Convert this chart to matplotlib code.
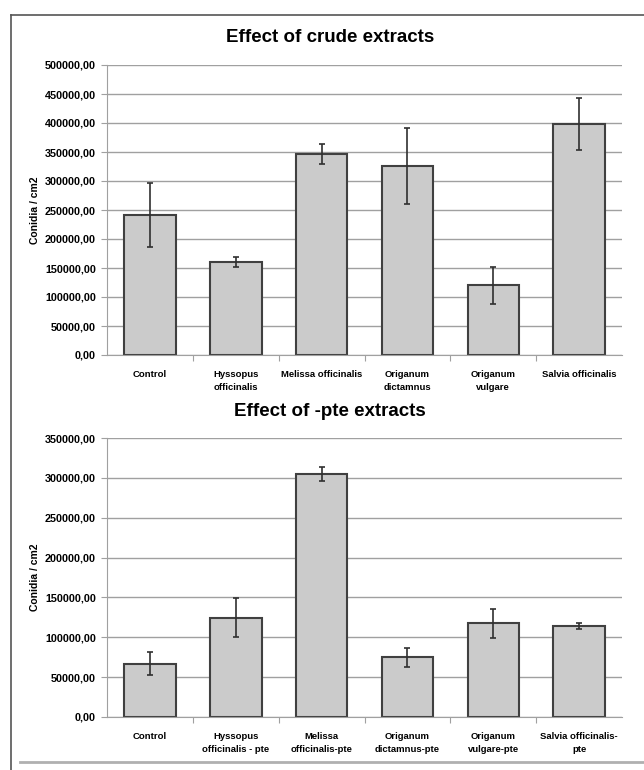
import matplotlib.pyplot as plt
import matplotlib.ticker as ticker
from matplotlib.lines import Line2D

# Data
crude_labels = ["Control", "Hyssopus\nofficinalis", "Melissa officinalis",
                "Origanum\ndictamnus", "Origanum\nvulgare", "Salvia officinalis"]
crude_means = [241000, 160500, 346500, 326500, 120000, 398500]
crude_err = [55000, 9000, 18000, 65500, 32000, 44500]

pte_labels = ["Control", "Hyssopus\nofficinalis - pte", "Melissa\nofficinalis-pte",
              "Origanum\ndictamnus-pte", "Origanum\nvulgare-pte", "Salvia officinalis-\npte"]
pte_means = [67000, 124800, 304600, 75000, 117300, 114000]
pte_err = [14000, 24000, 9000, 12000, 18000, 4000]

plt.rcParams["font.family"] = ["Liberation Sans", "DejaVu Sans"]
plt.rcParams["font.weight"] = "bold"

fig = plt.figure(figsize=(6.44, 7.70), dpi=100)

# outer frame lines
fig.add_artist(Line2D([11 / 644, 11 / 644], [0, 1 - 15 / 770], color="#555555", lw=1.2))
fig.add_artist(Line2D([11 / 644, 1], [1 - 15 / 770, 1 - 15 / 770], color="#555555", lw=1.2))
fig.add_artist(Line2D([20 / 644, 1], [1 - 762 / 770, 1 - 762 / 770], color="#b0b0b0", lw=2))


def fmt(x, _):
    return f"{x:.2f}".replace(".", ",")


def draw(ax, labels, means, err, ymax):
    x = range(len(labels))
    ax.set_axisbelow(True)
    ax.yaxis.grid(True, color="#a0a0a0", lw=1)
    ax.bar(x, means, width=0.6, color="#cbcbcb", edgecolor="#404040", lw=1.5,
           yerr=err, capsize=2.5, error_kw=dict(ecolor="#303030", elinewidth=1.2, capthick=1.2))
    ax.set_xlim(-0.5, len(labels) - 0.5)
    ax.set_ylim(0, ymax)
    ax.yaxis.set_major_locator(ticker.MultipleLocator(50000))
    ax.yaxis.set_major_formatter(ticker.FuncFormatter(fmt))
    ax.set_xticks([i + 0.5 for i in range(len(labels) - 1)])
    ax.set_xticklabels([])
    ax.set_xticks(list(x), minor=True)
    ax.set_xticklabels(labels, minor=True, fontsize=6.8, fontweight="bold", linespacing=1.5)
    ax.tick_params(axis="x", which="minor", length=0, pad=11)
    ax.tick_params(axis="x", which="major", length=4, color="#a0a0a0")
    ax.tick_params(axis="y", length=4, color="#a0a0a0", labelsize=7.8, pad=4)
    for s in ["top", "right"]:
        ax.spines[s].set_visible(False)
    ax.spines["left"].set_color("#a0a0a0")
    ax.spines["bottom"].set_color("#a0a0a0")
    ax.set_ylabel("Conidia / cm2", fontsize=7.5, fontweight="bold")
    ax.yaxis.set_label_coords(-0.13, 0.5)


ax1 = fig.add_axes([107 / 644, 1 - 355 / 770, 515 / 644, 290 / 770])
draw(ax1, crude_labels, crude_means, crude_err, 500000)
fig.text(330 / 644, 1 - 37 / 770, "Effect of crude extracts", ha="center", va="center",
         fontsize=13.5, fontweight="bold")

ax2 = fig.add_axes([107 / 644, 1 - 717 / 770, 515 / 644, 279 / 770])
draw(ax2, pte_labels, pte_means, pte_err, 350000)
fig.text(330 / 644, 1 - 411 / 770, "Effect of -pte extracts", ha="center", va="center",
         fontsize=13.5, fontweight="bold")

plt.savefig("out.png", dpi=100)
